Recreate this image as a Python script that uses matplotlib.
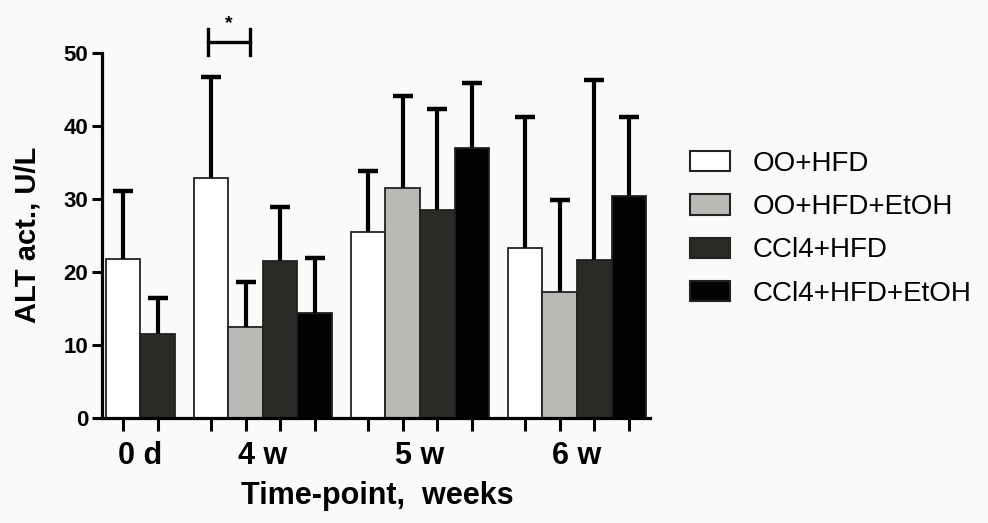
import numpy as np
import matplotlib
matplotlib.use('Agg')
import matplotlib.pyplot as plt
from matplotlib.patches import Rectangle

plt.rcParams['font.family'] = ['Liberation Sans', 'DejaVu Sans']

# データ
groups = ['0 d', '4 w', '5 w', '6 w']
series = ['OO+HFD', 'OO+HFD+EtOH', 'CCl4+HFD', 'CCl4+HFD+EtOH']

oo_hfd = [21.8, 32.8, 25.5, 23.3]
oo_hfd_err = [9.2, 13.8, 8.3, 17.9]
oo_etoh = [np.nan, 12.4, 31.4, 17.2]
oo_etoh_err = [np.nan, 6.2, 12.7, 12.6]
ccl4_hfd = [11.5, 21.5, 28.4, 21.6]
ccl4_hfd_err = [4.9, 7.3, 13.9, 24.6]
ccl4_etoh = [np.nan, 14.3, 37.0, 30.3]
ccl4_etoh_err = [np.nan, 7.6, 8.8, 10.9]

means = [oo_hfd, oo_etoh, ccl4_hfd, ccl4_etoh]
errs = [oo_hfd_err, oo_etoh_err, ccl4_hfd_err, ccl4_etoh_err]
colors = ['#ffffff', '#b9b9b5', '#2a2b26', '#030303']

bg = '#fafaf8'
fig = plt.figure(figsize=(9.88, 5.23), dpi=100, facecolor=bg)
ax = fig.add_axes([0.1032, 0.2013, 0.5547, 0.698])
ax.set_facecolor(bg)

# 棒の位置を計算する（グループ間にすき間を入れる）
gap = 0.54
pos = 0.0
bar_x = []
group_centers = []
first_x = {}
for g in range(len(groups)):
    xs = []
    for s in range(len(series)):
        m = means[s][g]
        if not np.isnan(m):
            e = errs[s][g]
            ax.bar(pos, m, width=1.0, color=colors[s],
                   edgecolor='#222222', linewidth=1.3, zorder=2)
            # 上側だけのエラーバー
            ax.vlines(pos, m, m + e, color='black', lw=3, zorder=3)
            ax.plot(pos, m + e, marker='_', markersize=15, mew=3.2,
                    color='black', zorder=3)
            first_x[(g, s)] = pos
            xs.append(pos)
            pos += 1
    bar_x += xs
    group_centers.append(np.mean(xs))
    pos += gap

ax.set_xlim(-0.61, 15.23)
ax.set_ylim(0, 50)

for side in ['top', 'right']:
    ax.spines[side].set_visible(False)
ax.spines['left'].set_linewidth(2.3)
ax.spines['bottom'].set_linewidth(2.3)

ax.set_yticks([0, 10, 20, 30, 40, 50])
ax.tick_params(axis='y', length=7, width=2.2, pad=3, labelsize=16)
for t in ax.get_yticklabels():
    t.set_fontweight('bold')

ax.set_xticks(bar_x)
ax.set_xticklabels([])
ax.tick_params(axis='x', which='major', length=9, width=2.2)
ax.set_xticks(group_centers, minor=True)
ax.set_xticklabels(groups, minor=True, fontsize=22, fontweight='bold')
ax.tick_params(axis='x', which='minor', length=0, pad=17)

ax.set_ylabel('ALT act., U/L', fontsize=21, fontweight='bold')
ax.yaxis.set_label_coords(-0.11, 0.5)
ax.set_xlabel('Time-point,  weeks', fontsize=22, fontweight='bold')
ax.xaxis.set_label_coords(0.502, -0.172)

# 有意差のブラケット
x1 = first_x[(1, 0)] - 0.08
x2 = first_x[(1, 1)] + 0.12
ax.plot([x1, x2], [51.5, 51.5], color='black', lw=2.4, clip_on=False)
ax.plot([x1, x1], [49.7, 53.2], color='black', lw=2.4, clip_on=False)
ax.plot([x2, x2], [49.7, 53.2], color='black', lw=2.4, clip_on=False)
ax.text((x1 + x2) / 2, 54.0, '*', ha='center', va='center', fontsize=14,
        fontweight='bold', clip_on=False)

handles = [Rectangle((0, 0), 1, 1, facecolor=c, edgecolor='#222222', linewidth=1.5)
           for c in colors]
fig.legend(handles, series, loc='upper left', bbox_to_anchor=(690 / 988, 1 - 151 / 523),
           frameon=False, fontsize=20, handlelength=1.45, handleheight=0.75,
           handletextpad=0.8, labelspacing=0.62, borderpad=0, borderaxespad=0)

fig.savefig('out.png', dpi=100, facecolor=bg)
